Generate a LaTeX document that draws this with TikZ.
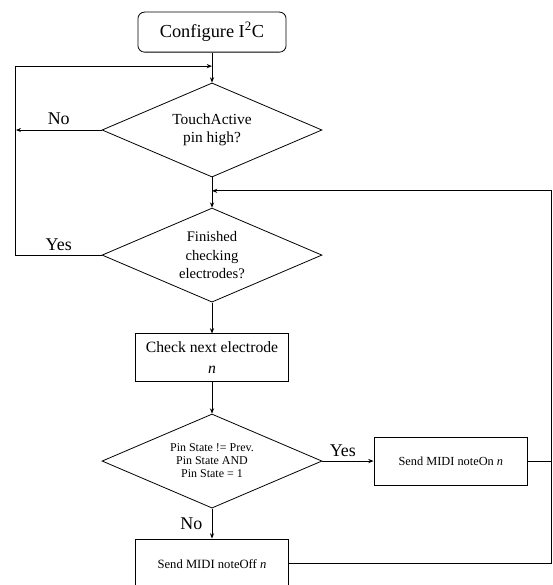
\documentclass[tikz,border=0pt]{standalone}
\usepackage{fontspec}
\setmainfont{Liberation Serif}
\usetikzlibrary{arrows.meta,shapes.geometric}
\tikzset{
  startbox/.style = {draw, line width=0.6pt, rounded corners=5pt,
                     minimum width=3.92cm, minimum height=1.06cm,
                     font=\fontsize{13.8}{16}\selectfont},
  procbox/.style  = {draw, line width=0.6pt, minimum width=4.05cm,
                     minimum height=1.27cm, align=center, inner sep=2pt},
  decide/.style   = {diamond, draw, line width=0.6pt, aspect=2.33,
                     minimum width=5.82cm, minimum height=2.49cm,
                     inner sep=0pt, align=center},
  flowar/.style   = {-{Stealth[length=1.4mm,width=1.1mm]}, line width=0.6pt},
  flowln/.style   = {line width=0.6pt},
  lbl/.style      = {font=\fontsize{13.5}{16}\selectfont}
}

\begin{document}
\begin{tikzpicture}
  \useasboundingbox (-5.61,0) rectangle (9.02,-15.48);
  % loop corners
  \coordinate (lft) at (-5.19,0);
  \coordinate (rgt) at (8.99,0);
  \coordinate (topjoin) at (0,-1.75);
  \coordinate (retjoin) at (0,-5.05);

  \node[startbox] (cfg) at (0,-0.85) {Configure I\textsuperscript{2}C};
  \node[decide,font=\fontsize{11.6}{13.5}\selectfont] (q1) at (0,-3.44)
    {TouchActive\\pin high?};
  \node[decide,font=\fontsize{11}{13.9}\selectfont] (q2) at (0,-6.75)
    {Finished\\checking\\electrodes?};
  \node[procbox,font=\fontsize{11.8}{15.7}\selectfont] (chk) at (0,-9.47)
    {Check next electrode\\\textit{n}};
  \node[decide,font=\fontsize{9}{9.8}\selectfont] (q3) at (0,-12.20)
    {Pin State != Prev.\\Pin State AND\\Pin State = 1};
  \node[procbox,minimum width=4.07cm,font=\fontsize{9.3}{11}\selectfont] (on) at (6.32,-12.20)
    {Send MIDI noteOn \textit{n}};
  \node[procbox,minimum height=1.32cm,font=\fontsize{9.5}{11}\selectfont] (off) at (0,-14.92)
    {Send MIDI noteOff \textit{n}};

  \draw[flowar] (cfg) -- (q1);
  \draw[flowar] (q1) -- (q2);
  \draw[flowar] (q1.west) -- (lft |- q1.west) node[midway,above,lbl]{No};
  \draw[flowar] (q2.west) -- (lft |- q2.west) node[midway,above,lbl]{Yes}
                -- (lft |- topjoin) -- (topjoin);
  \draw[flowar] (q2) -- (chk);
  \draw[flowar] (chk) -- (q3);
  \draw[flowar] (q3.east) -- (on.west) node[pos=0.4,above,lbl]{Yes};
  \draw[flowar] (q3.south) -- (off.north) node[midway,left,lbl,inner xsep=7pt]{No};
  \draw[flowar] (on.east) -- (rgt |- on.east) -- (rgt |- retjoin) -- (retjoin);
  \draw[flowln] (off.east) -- (rgt |- off.east) -- (rgt |- on.east);
\end{tikzpicture}
\end{document}
